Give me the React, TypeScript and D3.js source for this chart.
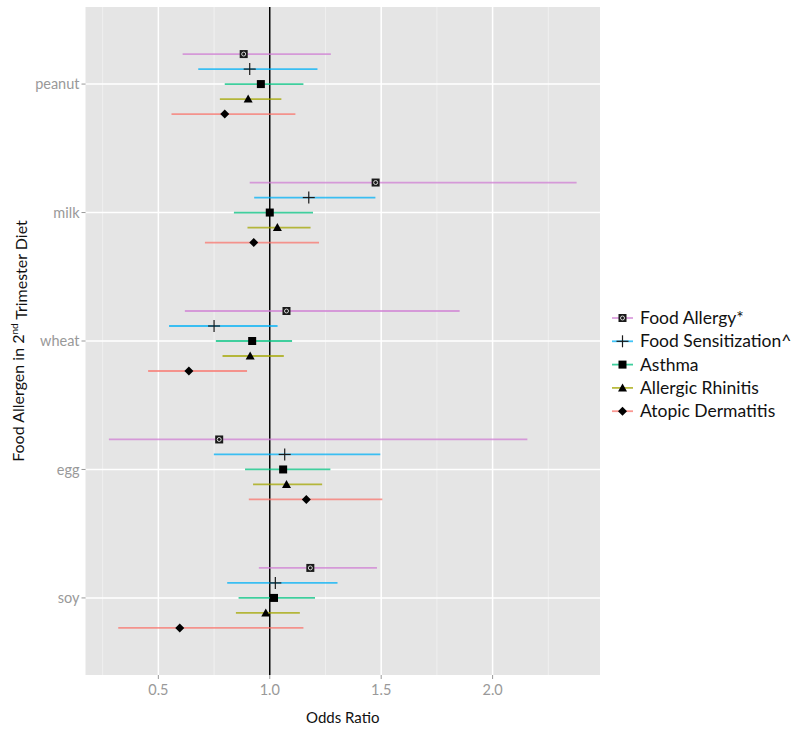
import React from "react";
import * as d3 from "d3";

const categories = ["peanut", "milk", "wheat", "egg", "soy"];
const series = ["Food Allergy*", "Food Sensitization^", "Asthma", "Allergic Rhinitis", "Atopic Dermatitis"];
const seriesColors = ["#CF7FD3", "#00B0F6", "#00BF7D", "#A3A500", "#F8766D"];
const seriesShapes = ["squarecross", "plus", "square", "triangle", "diamond"];

// [OR, lower, upper] per category, for each series
const foodAllergy = [[0.883, 0.609, 1.274], [1.475, 0.91, 2.377], [1.075, 0.619, 1.852], [0.773, 0.278, 2.156], [1.182, 0.951, 1.481]];
const foodSensitization = [[0.91, 0.679, 1.214], [1.175, 0.93, 1.474], [0.75, 0.548, 1.035], [1.067, 0.749, 1.496], [1.025, 0.809, 1.304]];
const asthma = [[0.96, 0.798, 1.151], [1.0, 0.839, 1.194], [0.921, 0.758, 1.1], [1.06, 0.889, 1.272], [1.019, 0.86, 1.203]];
const allergicRhinitis = [[0.903, 0.776, 1.052], [1.034, 0.9, 1.183], [0.912, 0.788, 1.063], [1.075, 0.925, 1.235], [0.982, 0.848, 1.135]];
const atopicDermatitis = [[0.798, 0.559, 1.115], [0.928, 0.709, 1.221], [0.637, 0.454, 0.898], [1.164, 0.906, 1.505], [0.596, 0.32, 1.151]];

const xTicks = [0.5, 1.0, 1.5, 2.0];
const xMinorTicks = [0.25, 0.75, 1.25, 1.75, 2.25];

const allSeries = [foodAllergy, foodSensitization, asthma, allergicRhinitis, atopicDermatitis];

function Marker({ shape, x, y }: { shape: string; x: number; y: number }) {
  if (shape === "squarecross") {
    return (
      <g>
        <rect x={x - 4} y={y - 4} width={8} height={8} fill="#1a1a1a" />
        <circle cx={x} cy={y} r={2} fill="#1a1a1a" stroke="#d8d8d8" strokeWidth={1} />
      </g>
    );
  }
  if (shape === "plus") {
    return (
      <g stroke="#1a1a1a" strokeWidth={1.2}>
        <line x1={x - 6} x2={x + 6} y1={y} y2={y} />
        <line x1={x} x2={x} y1={y - 6} y2={y + 6} />
      </g>
    );
  }
  if (shape === "square") {
    return <rect x={x - 4} y={y - 4} width={8} height={8} fill="#000" />;
  }
  if (shape === "triangle") {
    return <path d={`M${x},${y - 4.5} L${x + 4.5},${y + 3.5} L${x - 4.5},${y + 3.5} Z`} fill="#000" />;
  }
  return <path d={`M${x},${y - 4.5} L${x + 4.5},${y} L${x},${y + 4.5} L${x - 4.5},${y} Z`} fill="#000" />;
}

export default function App() {
  const W = 800, H = 730;
  const panel = { left: 85.5, right: 600, top: 7, bottom: 675 };
  const vals = allSeries.flat().flatMap((d) => [d[1], d[2]]);
  const lo = d3.min(vals) as number, hi = d3.max(vals) as number;
  const pad = (hi - lo) * 0.05;
  const x = d3.scaleLinear().domain([lo - pad, hi + pad]).range([panel.left, panel.right]);
  const y = d3.scalePoint<string>().domain(categories).range([panel.top, panel.bottom]).padding(0.6);
  const dodge = d3.scalePoint<string>().domain(series).range([-30, 30]);
  const font = "Lato, 'Open Sans', sans-serif";
  const legendX = 612, legendY0 = 318, legendStep = 23.3;

  return (
    <svg width={W} height={H} style={{ position: "absolute", left: 0, top: 0, background: "#fff" }} fontFamily={font}>
      <rect x={panel.left} y={panel.top} width={panel.right - panel.left} height={panel.bottom - panel.top} fill="#E5E5E5" />
      {xMinorTicks.map((t) => (
        <line key={"mn" + t} x1={x(t)} x2={x(t)} y1={panel.top} y2={panel.bottom} stroke="#F2F2F2" strokeWidth={0.8} />
      ))}
      {xTicks.map((t) => (
        <line key={"mj" + t} x1={x(t)} x2={x(t)} y1={panel.top} y2={panel.bottom} stroke="#FFFFFF" strokeWidth={1.5} />
      ))}
      {categories.map((c) => (
        <line key={"h" + c} x1={panel.left} x2={panel.right} y1={y(c)} y2={y(c)} stroke="#FFFFFF" strokeWidth={1.5} />
      ))}
      <line x1={x(1)} x2={x(1)} y1={panel.top} y2={panel.bottom} stroke="#000" strokeWidth={1.5} />
      {allSeries.map((data, si) =>
        data.map((d, ci) => {
          const yy = (y(categories[ci]) as number) + (dodge(series[si]) as number);
          return (
            <g key={si + "-" + ci}>
              <line x1={x(d[1])} x2={x(d[2])} y1={yy} y2={yy} stroke={seriesColors[si]} strokeOpacity={0.75} strokeWidth={1.8} />
              <Marker shape={seriesShapes[si]} x={x(d[0])} y={yy} />
            </g>
          );
        })
      )}
      {categories.map((c) => (
        <g key={"yt" + c}>
          <line x1={panel.left - 4} x2={panel.left} y1={y(c)} y2={y(c)} stroke="#999" strokeWidth={1} />
          <text x={panel.left - 6} y={y(c)} dy="0.35em" textAnchor="end" fontSize={14.5} fill="#999">{c}</text>
        </g>
      ))}
      {xTicks.map((t) => (
        <g key={"xt" + t}>
          <line x1={x(t)} x2={x(t)} y1={panel.bottom} y2={panel.bottom + 4} stroke="#999" strokeWidth={1} />
          <text x={x(t)} y={panel.bottom + 15} dy="0.35em" textAnchor="middle" fontSize={14.5} fill="#999">{d3.format(".1f")(t)}</text>
        </g>
      ))}
      <text x={(panel.left + panel.right) / 2} y={718} dy="0.35em" textAnchor="middle" fontSize={15} fill="#111">Odds Ratio</text>
      <text transform={`translate(18,${(panel.top + panel.bottom) / 2}) rotate(-90)`} textAnchor="middle" dy="0.35em" fontSize={16} fill="#111">
        Food Allergen in 2<tspan fontSize={10} dy="-0.6em">nd</tspan><tspan dy="0.6em"> Trimester Diet</tspan>
      </text>
      {series.map((s, i) => {
        const ly = legendY0 + i * legendStep;
        return (
          <g key={"lg" + s}>
            <line x1={legendX} x2={legendX + 21} y1={ly} y2={ly} stroke={seriesColors[i]} strokeOpacity={0.75} strokeWidth={1.8} />
            <Marker shape={seriesShapes[i]} x={legendX + 10.5} y={ly} />
            <text x={legendX + 28} y={ly} dy="0.35em" fontSize={17.5} fill="#111">{s}</text>
          </g>
        );
      })}
    </svg>
  );
}
